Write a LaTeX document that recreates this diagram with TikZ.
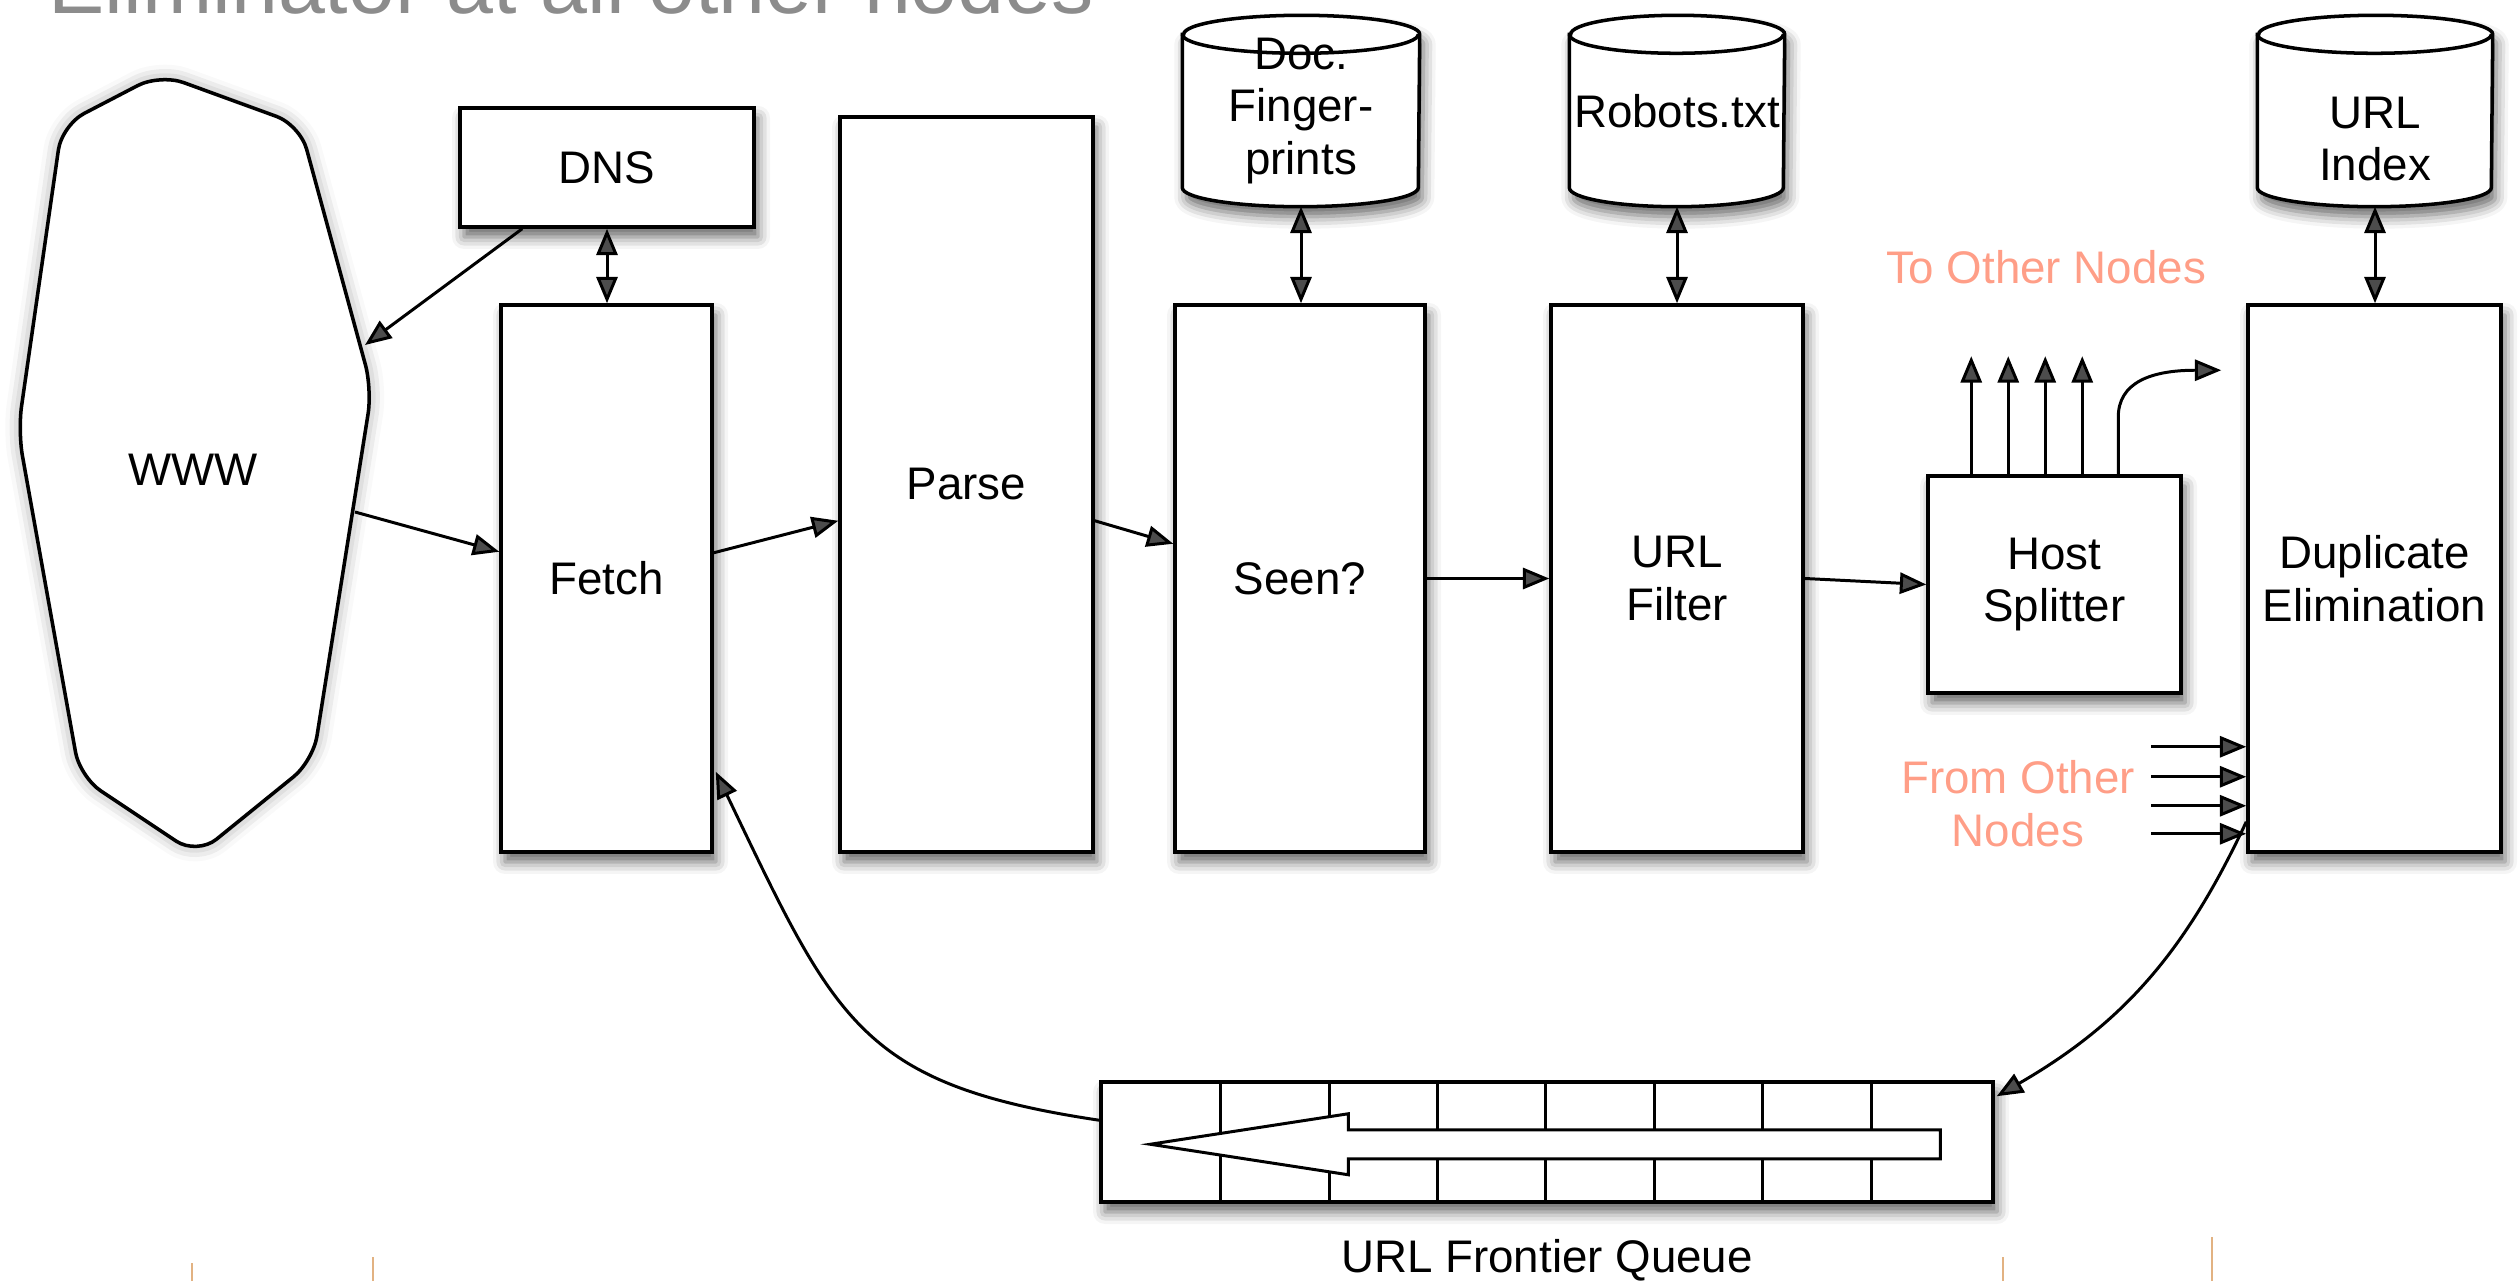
\documentclass[tikz,border=0pt]{standalone}
\usepackage{fontspec}
\setmainfont{Liberation Sans}
\usetikzlibrary{arrows.meta,shadows.blur,calc,positioning}

\definecolor{notecol}{RGB}{255,158,135}
\definecolor{titlegray}{RGB}{140,140,140}
\definecolor{markcol}{RGB}{226,178,130}

\tikzset{
  every node/.style={font=\fontsize{13pt}{15pt}\selectfont},
  boxshadow/.style={blur shadow={shadow xshift=0.04cm, shadow yshift=-0.1cm,
      shadow blur radius=0.12cm, shadow opacity=60}},
  stage/.style={draw, line width=1pt, fill=white, align=center, inner sep=0pt, boxshadow},
  store/.style={minimum height=1.9cm, inner sep=0pt},
  storeline/.style={line width=1pt},
  flow/.style={-{Triangle[length=7.5pt,width=6pt]}, line width=0.85pt},
  both/.style={{Triangle[length=7.5pt,width=6pt]}-{Triangle[length=7.5pt,width=6pt]}, line width=0.85pt},
  note/.style={text=notecol, align=center},
  slidemark/.style={draw=markcol, line width=0.8pt},
}

% cylinder outline round a store node: #1 node, #2 half width
\newcommand{\drawstore}[2]{%
  \draw[storeline, fill=white, boxshadow]
    ($(#1.north west)+(0,-0.19)$) -- ($(#1.south west)+(0,0.19)$)
    arc[start angle=180, end angle=360, x radius=#2, y radius=0.19]
    -- ($(#1.north east)+(0,-0.19)$)
    arc[start angle=0, end angle=180, x radius=#2, y radius=0.19] -- cycle;
  \draw[storeline] ($(#1.north west)+(0,-0.19)$)
    arc[start angle=180, end angle=360, x radius=#2, y radius=0.19];
}

\begin{document}
\begin{tikzpicture}
\useasboundingbox (0,0) rectangle (25.2,12.81);

% heading, cut off by the page edge
\node[anchor=base west, text=titlegray, font=\fontsize{24pt}{28pt}\selectfont] (heading) at (0.36,12.67) {Eliminator at all other nodes};

% the web
\draw[line width=1pt, fill=white, rounded corners=0.25cm,
      blur shadow={shadow xshift=0cm, shadow yshift=0cm, shadow blur radius=0.15cm, shadow opacity=40}]
  (1.60,12.07) -- (3.00,11.56) -- (3.72,8.92) -- (3.13,5.20) -- (1.97,4.26)
  -- (0.80,5.04) -- (0.18,8.50) -- (0.62,11.56) -- cycle;
\node (www) at (1.93,8.11) {WWW};
\coordinate (wwwin) at (3.65,9.36);
\coordinate (wwwout) at (3.55,7.69);

% pipeline stages
\node[stage, minimum width=2.94cm, minimum height=1.19cm] (dns) at (6.07,11.135) {DNS};
\node[stage, minimum width=2.11cm, minimum height=5.47cm] (fetch) at (6.065,7.025) {Fetch};
\node[stage, minimum width=2.53cm, minimum height=7.35cm] (parse) at (9.665,7.965) {Parse};
\node[stage, minimum width=2.50cm, minimum height=5.47cm] (seen) at (13.0,7.025) {Seen?};
\node[stage, minimum width=2.52cm, minimum height=5.47cm] (filter) at (16.77,7.025) {URL\\Filter};
\node[stage, minimum width=2.53cm, minimum height=2.17cm] (splitter) at (20.545,6.965) {Host\\Splitter};
\node[stage, minimum width=2.53cm, minimum height=5.47cm] (dedup) at (23.745,7.025) {Duplicate\\Elimination};

% stores
\node[store, minimum width=2.36cm] (prints) at (13.01,11.70) {};
\node[store, minimum width=2.14cm] (robots) at (16.77,11.70) {};
\node[store, minimum width=2.34cm] (urlidx) at (23.75,11.70) {};
\drawstore{prints}{1.18}
\drawstore{robots}{1.07}
\drawstore{urlidx}{1.17}
\node[align=center] (printsname) at (prints.center) {Doc.\\Finger-\\prints};
\node (robotsname) at (robots.center) {Robots.txt};
\node[align=center] (urlidxname) at ($(urlidx.center)+(0,-0.28)$) {URL\\Index};

% frontier queue
\node[draw, line width=1pt, fill=white, minimum width=8.92cm, minimum height=1.20cm, boxshadow] (queue) at (15.47,1.39) {};
\foreach \x in {1.21,2.30,3.38,4.46,5.55,6.63,7.72}
  \draw[line width=0.85pt] ($(queue.south west)+(\x,0)$) -- ($(queue.north west)+(\x,0)$);
\draw[line width=0.85pt, fill=white, shift={(queue.south west)}]
  (0.51,0.595) -- (2.49,0.90) -- (2.49,0.74) -- (8.41,0.74) -- (8.41,0.45)
  -- (2.49,0.45) -- (2.49,0.29) -- cycle;
\node (qname) at ($(queue.south)+(0,-0.56)$) {URL Frontier Queue};

% main flow
\draw[flow] ($(dns.south west)+(0.64,0)$) -- (wwwin);
\draw[flow] (wwwout) -- ($(fetch.south west)+(0,3.02)$);
\draw[both] (dns.south) -- (dns.south |- fetch.north);
\draw[flow] ($(fetch.south east)+(0,3.01)$) -- ($(parse.south west)+(0,3.33)$);
\draw[flow] ($(parse.south east)+(0,3.33)$) -- ($(seen.south west)+(0,3.10)$);
\draw[flow] (seen.east) -- (filter.west);
\draw[flow] (filter.east) -- (splitter.west);
\draw[both] (prints.south) -- (prints.south |- seen.north);
\draw[both] (robots.south) -- (robots.south |- filter.north);
\draw[both] (urlidx.south) -- (urlidx.south |- dedup.north);

% host splitter outputs
\foreach \dx in {0.45,0.82,1.19,1.56}
  \draw[flow] ($(splitter.north west)+(\dx,0)$) -- ++(0,1.18);
\coordinate (back) at ($(dedup.north west)+(-0.25,-0.67)$);
\draw[flow] ($(splitter.north west)+(1.92,0)$) -- ++(0,0.57) .. controls +(0,0.35) and +(-0.7,0) .. (back);
\node[note] (tonodes) at (20.46,10.14) {To Other Nodes};

% incoming from other nodes
\foreach \dy in {1.07,0.77,0.48,0.20}
  \draw[flow] ($(dedup.south west)+(-0.95,\dy)$) -- ++(0.95,0);
\node[note] (fromnodes) at (20.18,4.77) {From Other\\Nodes};

% loop through the frontier
\draw[flow] ($(dedup.south west)+(0,0.32)$) to[out=-115,in=30] ($(queue.north east)+(0.02,-0.16)$);
\draw[flow] ($(queue.north west)+(0,-0.40)$) .. controls +(-2.4,0.36) and +(1.2,-2.5) .. ($(fetch.south east)+(0.02,0.82)$);

% slide edge marks
\foreach \x/\h in {1.92/0.18, 3.73/0.24, 20.03/0.24, 22.12/0.44}
  \draw[slidemark] (\x,0) -- ++(0,\h);
\end{tikzpicture}
\end{document}
